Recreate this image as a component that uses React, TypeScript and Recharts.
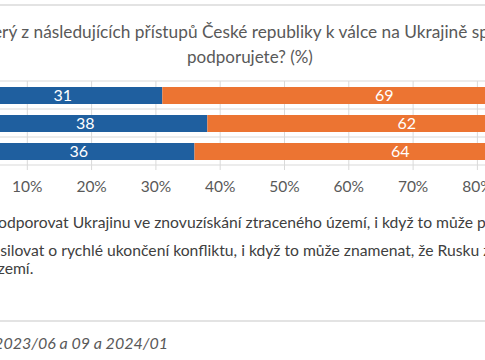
import { BarChart, Bar, XAxis, YAxis, CartesianGrid, LabelList } from 'recharts';

// Survey waves (top to bottom) and the two answer shares in %
const periods = ['2023/06', '2023/09', '2024/01'];
const supportUkraine = [31, 38, 36];
const quickEnd = [69, 62, 64];
const valueTicks = [0, 10, 20, 30, 40, 50, 60, 70, 80, 90, 100];

const titleLines = [
  'Který z následujících přístupů České republiky k válce na Ukrajině spíše',
  'podporujete? (%)',
];
const legendItems = [
  {
    color: '#1F5F9F',
    lines: ['Podporovat Ukrajinu ve znovuzískání ztraceného území, i když to může prodloužit válku.'],
  },
  {
    color: '#EC7432',
    lines: [
      'Usilovat o rychlé ukončení konfliktu, i když to může znamenat, že Rusku zůstane část ukrajinského',
      'území.',
    ],
  },
];
const sourceNote = 'Zdroj: CVVM, Naše společnost 2023/06 a 09 a 2024/01';

const data = periods.map((p, i) => ({
  period: p,
  support: supportUkraine[i],
  end: quickEnd[i],
}));

const FONT = 'Lato, "Open Sans", sans-serif';
const SHIFT = 120; // chart is wider than the visible crop

export default function App() {
  return (
    <div
      style={{
        position: 'absolute',
        left: 0,
        top: 0,
        width: 485,
        height: 360,
        overflow: 'hidden',
        background: '#fff',
        fontFamily: FONT,
      }}
    >
      <div style={{ position: 'absolute', left: 0, top: 4, width: 485, height: 2, background: '#e3e3e3' }} />

      <div
        style={{
          position: 'absolute',
          top: 19,
          left: 250 - 400,
          width: 800,
          textAlign: 'center',
          color: '#595959',
          fontSize: 17.3,
          lineHeight: '25px',
        }}
      >
        <div style={{ paddingRight: 14 }}>{titleLines[0]}</div>
        <div style={{ fontSize: 17 }}>{titleLines[1]}</div>
      </div>

      <div style={{ position: 'absolute', left: -SHIFT, top: 0 }}>
        <BarChart
          width={736}
          height={200}
          data={data}
          layout="vertical"
          margin={{ top: 81, right: 10, bottom: 5, left: 0 }}
        >
          <CartesianGrid
            stroke="#d9d9d9"
            horizontalCoordinatesGenerator={({ offset }: any) =>
              periods.map((_, i) => offset.top + ((i + 1) * offset.height) / periods.length).concat([offset.top])
            }
          />
          <XAxis
            type="number"
            domain={[0, 100]}
            ticks={valueTicks}
            tickFormatter={(v) => `${v}%`}
            axisLine={false}
            tickLine={{ stroke: '#d9d9d9' }}
            tickSize={5}
            tickMargin={11}
            height={30}
            tick={{ fill: '#595959', fontSize: 15.5, fontFamily: FONT }}
          />
          <YAxis
            type="category"
            dataKey="period"
            width={SHIFT - 37}
            axisLine={false}
            tickLine={false}
            tick={{ fill: '#595959', fontSize: 15, fontFamily: FONT }}
          />
          <Bar dataKey="support" stackId="a" fill="#1F5F9F" barSize={17} isAnimationActive={false}>
            <LabelList dataKey="support" position="center" fill="#fff" fontSize={16} fontFamily={FONT} />
          </Bar>
          <Bar dataKey="end" stackId="a" fill="#EC7432" barSize={17} isAnimationActive={false}>
            <LabelList dataKey="end" position="center" fill="#fff" fontSize={16} fontFamily={FONT} />
          </Bar>
        </BarChart>
      </div>

      <div style={{ position: 'absolute', left: -29, top: 213, color: '#404040', fontSize: 15.7, lineHeight: '18px' }}>
        {legendItems.map((item) => (
          <div key={item.color} style={{ display: 'flex', marginBottom: 10, whiteSpace: 'nowrap' }}>
            <span style={{ width: 9, height: 9, background: item.color, marginTop: 5, marginRight: 9, flex: 'none' }} />
            <div>
              {item.lines.map((l) => (
                <div key={l}>{l}</div>
              ))}
            </div>
          </div>
        ))}
      </div>

      <div style={{ position: 'absolute', left: 0, top: 320, width: 485, height: 2, background: '#e3e3e3' }} />

      <div
        style={{
          position: 'absolute',
          top: 332,
          right: 485 - 168,
          whiteSpace: 'nowrap',
          fontStyle: 'italic',
          color: '#595959',
          fontSize: 16,
          lineHeight: '22px',
        }}
      >
        {sourceNote}
      </div>
    </div>
  );
}
